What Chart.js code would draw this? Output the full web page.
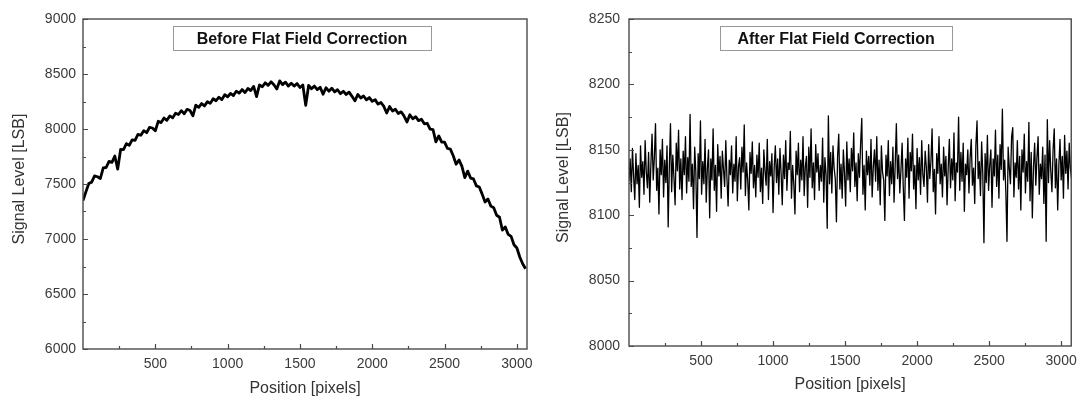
<!DOCTYPE html>
<html><head><meta charset="utf-8">
<script src="https://cdn.jsdelivr.net/npm/chart.js@4.4.1/dist/chart.umd.min.js"></script>
<style>
html,body{margin:0;padding:0;background:#fff;}
#wrap{position:relative;width:1084px;height:397px;overflow:hidden;background:#fff;}
canvas{position:absolute;top:0;}
#c1{left:0;} #c2{left:542px;}
</style></head><body>
<div id="wrap"><canvas id="c1" width="542" height="397"></canvas><canvas id="c2" width="542" height="397"></canvas></div>
<script>
// ---- data ----
const X_MIN = 0, X_MAX = 3070;
const xTicks = [500, 1000, 1500, 2000, 2500, 3000];
const xMinorTicks = [250, 750, 1250, 1750, 2250, 2750];

const beforeTitle = 'Before Flat Field Correction';
const beforeStep = 20; // pixel spacing of the samples below
const beforeValues = [
  7350, 7428, 7505, 7517, 7573, 7566, 7550, 7647, 7650, 7706,
  7697, 7754, 7635, 7814, 7813, 7867, 7852, 7901, 7897, 7951,
  7943, 7985, 7966, 8015, 8009, 7983, 8070, 8058, 8100, 8079,
  8119, 8101, 8144, 8132, 8167, 8139, 8179, 8168, 8120, 8216,
  8197, 8231, 8210, 8248, 8233, 8275, 8257, 8289, 8267, 8312,
  8293, 8323, 8304, 8344, 8326, 8359, 8331, 8368, 8350, 8387,
  8295, 8400, 8384, 8420, 8397, 8429, 8402, 8364, 8437, 8404,
  8426, 8390, 8416, 8390, 8413, 8377, 8400, 8215, 8396, 8366,
  8390, 8358, 8380, 8316, 8375, 8344, 8371, 8337, 8357, 8321,
  8343, 8314, 8335, 8297, 8256, 8314, 8282, 8300, 8265, 8286,
  8251, 8267, 8226, 8241, 8205, 8145, 8204, 8164, 8180, 8141,
  8156, 8118, 8064, 8129, 8093, 8112, 8076, 8089, 8047, 8052,
  7998, 7995, 7883, 7937, 7881, 7880, 7823, 7817, 7757, 7680,
  7719, 7660, 7558, 7617, 7554, 7546, 7483, 7472, 7408, 7336,
  7363, 7299, 7285, 7216, 7198, 7080, 7110, 7042, 7024, 6948,
  6918, 6836, 6775, 6730
];
const beforeYTicks = [6000, 6500, 7000, 7500, 8000, 8500, 9000];
const beforeYMinor = [6250, 6750, 7250, 7750, 8250, 8750];

const afterTitle = 'After Flat Field Correction';
const afterStep = 8;
const afterValues = [
  8126, 8143, 8118, 8151, 8130, 8112, 8147, 8124, 8138, 8106, 8153, 8129, 8141, 8116, 8157, 8133,
  8121, 8148, 8110, 8139, 8162, 8127, 8144, 8170, 8119, 8136, 8101, 8150, 8131, 8158, 8114, 8142,
  8125, 8153, 8091, 8137, 8170, 8118, 8146, 8129, 8108, 8155, 8134, 8165, 8120, 8143, 8112, 8149,
  8131, 8160, 8117, 8144, 8126, 8177, 8122, 8139, 8105, 8152, 8133, 8083, 8147, 8128, 8172, 8116,
  8141, 8124, 8158, 8110, 8136, 8150, 8098, 8143, 8127, 8166, 8119, 8138, 8103, 8154, 8130, 8145,
  8113, 8149, 8135, 8122, 8157, 8128, 8107, 8142, 8131, 8153, 8117, 8139, 8126, 8160, 8111, 8137,
  8144, 8120, 8152, 8133, 8169, 8115, 8140, 8127, 8104, 8148, 8132, 8156, 8121, 8138, 8114, 8146,
  8129, 8155, 8118, 8136, 8109, 8150, 8134, 8123, 8158, 8112, 8141, 8130, 8147, 8102, 8137, 8153,
  8125, 8143, 8116, 8151, 8132, 8108, 8146, 8128, 8157, 8119, 8140, 8135, 8164, 8113, 8138, 8124,
  8101, 8149, 8131, 8155, 8118, 8142, 8127, 8160, 8115, 8137, 8145, 8106, 8152, 8129, 8166, 8121,
  8140, 8112, 8154, 8133, 8147, 8119, 8138, 8126, 8159, 8110, 8144, 8131, 8090, 8176, 8124, 8148,
  8117, 8153, 8136, 8128, 8095, 8145, 8162, 8120, 8139, 8113, 8150, 8132, 8107, 8156, 8127, 8143,
  8118, 8151, 8134, 8163, 8122, 8140, 8111, 8147, 8129, 8155, 8174, 8116, 8138, 8104, 8149, 8131,
  8145, 8123, 8158, 8114, 8137, 8150, 8126, 8160, 8119, 8142, 8108, 8153, 8133, 8127, 8096, 8146,
  8130, 8157, 8115, 8141, 8124, 8152, 8110, 8139, 8170, 8128, 8146, 8117, 8135, 8155, 8121, 8096,
  8143, 8129, 8159, 8113, 8148, 8134, 8162, 8120, 8138, 8105, 8151, 8127, 8144, 8116, 8157, 8131,
  8122, 8149, 8137, 8110, 8154, 8128, 8141, 8166, 8118, 8135, 8101, 8147, 8132, 8160, 8124, 8139,
  8114, 8152, 8130, 8145, 8108, 8137, 8158, 8121, 8143, 8127, 8163, 8111, 8140, 8133, 8175, 8119,
  8148, 8126, 8155, 8103, 8139, 8131, 8150, 8117, 8144, 8158, 8123, 8136, 8109, 8153, 8172, 8128,
  8141, 8115, 8156, 8132, 8079, 8147, 8125, 8161, 8119, 8138, 8150, 8106, 8143, 8130, 8165, 8122,
  8146, 8113, 8154, 8135, 8181, 8127, 8142, 8118, 8080, 8152, 8136, 8124, 8160, 8167, 8114, 8140,
  8129, 8157, 8120, 8145, 8104, 8150, 8133, 8162, 8117, 8141, 8126, 8171, 8111, 8148, 8098, 8137,
  8155, 8123, 8144, 8160, 8116, 8139, 8128, 8152, 8109, 8146, 8080, 8173, 8125, 8157, 8134, 8118,
  8150, 8166, 8121, 8143, 8104, 8138, 8158, 8127, 8145, 8113, 8161, 8132, 8149, 8120, 8155, 8136,
  8128
];
const afterYTicks = [8000, 8050, 8100, 8150, 8200, 8250];
const afterYMinor = [8025, 8075, 8125, 8175, 8225];

const xTitle = 'Position [pixels]';
const yTitle = 'Signal Level [LSB]';

// ---- drawing ----
const FONT = '"Liberation Sans", Arial, Helvetica, sans-serif';
const AXIS_COLOR = '#4a4a4a';

const decorPlugin = {
  id: 'decor',
  afterDraw(chart, args, o) {
    const ctx = chart.ctx, a = chart.chartArea;
    const xs = chart.scales.x, ys = chart.scales.y;
    ctx.save();
    // frame
    ctx.strokeStyle = AXIS_COLOR;
    ctx.lineWidth = 1.4;
    ctx.strokeRect(a.left, a.top, a.right - a.left, a.bottom - a.top);
    // inward ticks
    ctx.lineWidth = 1.2;
    ctx.beginPath();
    const xt = (vals, len) => vals.forEach(v => { const p = Math.round(xs.getPixelForValue(v)) + 0.5; ctx.moveTo(p, a.bottom); ctx.lineTo(p, a.bottom - len); });
    const yt = (vals, len) => vals.forEach(v => { const p = Math.round(ys.getPixelForValue(v)) + 0.5; ctx.moveTo(a.left, p); ctx.lineTo(a.left + len, p); });
    xt(xTicks, 5); xt(xMinorTicks, 3);
    yt(o.yTicks, 5); yt(o.yMinor, 3);
    ctx.stroke();
    // title box
    ctx.font = 'bold 16px ' + FONT;
    const bw = o.boxW, bh = 24;
    const cx = (a.left + a.right) / 2;
    const bcx = cx + o.boxDx;
    const bx = Math.round(bcx - bw / 2) + 0.5, by = 26.5;
    ctx.fillStyle = '#fff';
    ctx.fillRect(bx, by, bw, bh);
    ctx.strokeStyle = '#999';
    ctx.lineWidth = 1;
    ctx.strokeRect(bx, by, bw, bh);
    ctx.fillStyle = '#111';
    ctx.textAlign = 'center';
    ctx.textBaseline = 'middle';
    ctx.fillText(o.title, bcx, by + bh / 2 + 1);
    // axis titles
    ctx.font = '16px ' + FONT;
    ctx.fillStyle = '#333';
    ctx.fillText(xTitle, cx, o.xTitleY);
    ctx.translate(o.yTitleX, (a.top + a.bottom) / 2 - 5);
    ctx.rotate(-Math.PI / 2);
    ctx.fillText(yTitle, 0, 0);
    ctx.restore();
  }
};

function makeChart(id, p) {
  const data = p.values.map((v, i) => ({ x: i * p.step, y: v }));
  return new Chart(document.getElementById(id), {
    type: 'line',
    data: { datasets: [{ data, borderColor: '#000', borderWidth: p.lineWidth, pointRadius: 0, tension: 0, fill: false, borderJoinStyle: 'round' }] },
    options: {
      responsive: false, animation: false, devicePixelRatio: 1,
      layout: { padding: { left: 0, right: p.padRight, top: p.padTop, bottom: 0 } },
      plugins: { legend: { display: false }, tooltip: { enabled: false },
        decor: { title: p.title, yTicks: p.yTicks, yMinor: p.yMinor, xTitleY: p.xTitleY, yTitleX: p.yTitleX, boxW: p.boxW, boxDx: p.boxDx } },
      scales: {
        x: {
          type: 'linear', min: X_MIN, max: X_MAX,
          afterBuildTicks: s => { s.ticks = xTicks.map(v => ({ value: v })); },
          afterFit: s => { s.height = p.xAxisHeight; },
          ticks: { font: { family: FONT, size: 14 }, color: '#3a3a3a', padding: 7, maxRotation: 0, autoSkip: false, callback: v => String(v) },
          grid: { display: false, drawTicks: false }, border: { display: false }
        },
        y: {
          type: 'linear', min: p.yTicks[0], max: p.yTicks[p.yTicks.length - 1],
          afterBuildTicks: s => { s.ticks = p.yTicks.map(v => ({ value: v })); },
          afterFit: s => { s.width = p.yAxisWidth; },
          ticks: { font: { family: FONT, size: 14 }, color: '#3a3a3a', padding: p.yLabelPad, autoSkip: false, callback: v => String(v) },
          grid: { display: false, drawTicks: false }, border: { display: false }
        }
      }
    },
    plugins: [decorPlugin]
  });
}

makeChart('c1', { values: beforeValues, step: beforeStep, yTicks: beforeYTicks, yMinor: beforeYMinor, title: beforeTitle,
  yAxisWidth: 83, padRight: 15, padTop: 19, xAxisHeight: 48, yLabelPad: 7, yTitleX: 20, xTitleY: 389, lineWidth: 2.8,
  boxW: 258, boxDx: -3 });
makeChart('c2', { values: afterValues, step: afterStep, yTicks: afterYTicks, yMinor: afterYMinor, title: afterTitle,
  yAxisWidth: 87, padRight: 12, padTop: 19, xAxisHeight: 51, yLabelPad: 9, yTitleX: 22, xTitleY: 385, lineWidth: 1.3,
  boxW: 232, boxDx: -14 });
</script>
</body></html>
